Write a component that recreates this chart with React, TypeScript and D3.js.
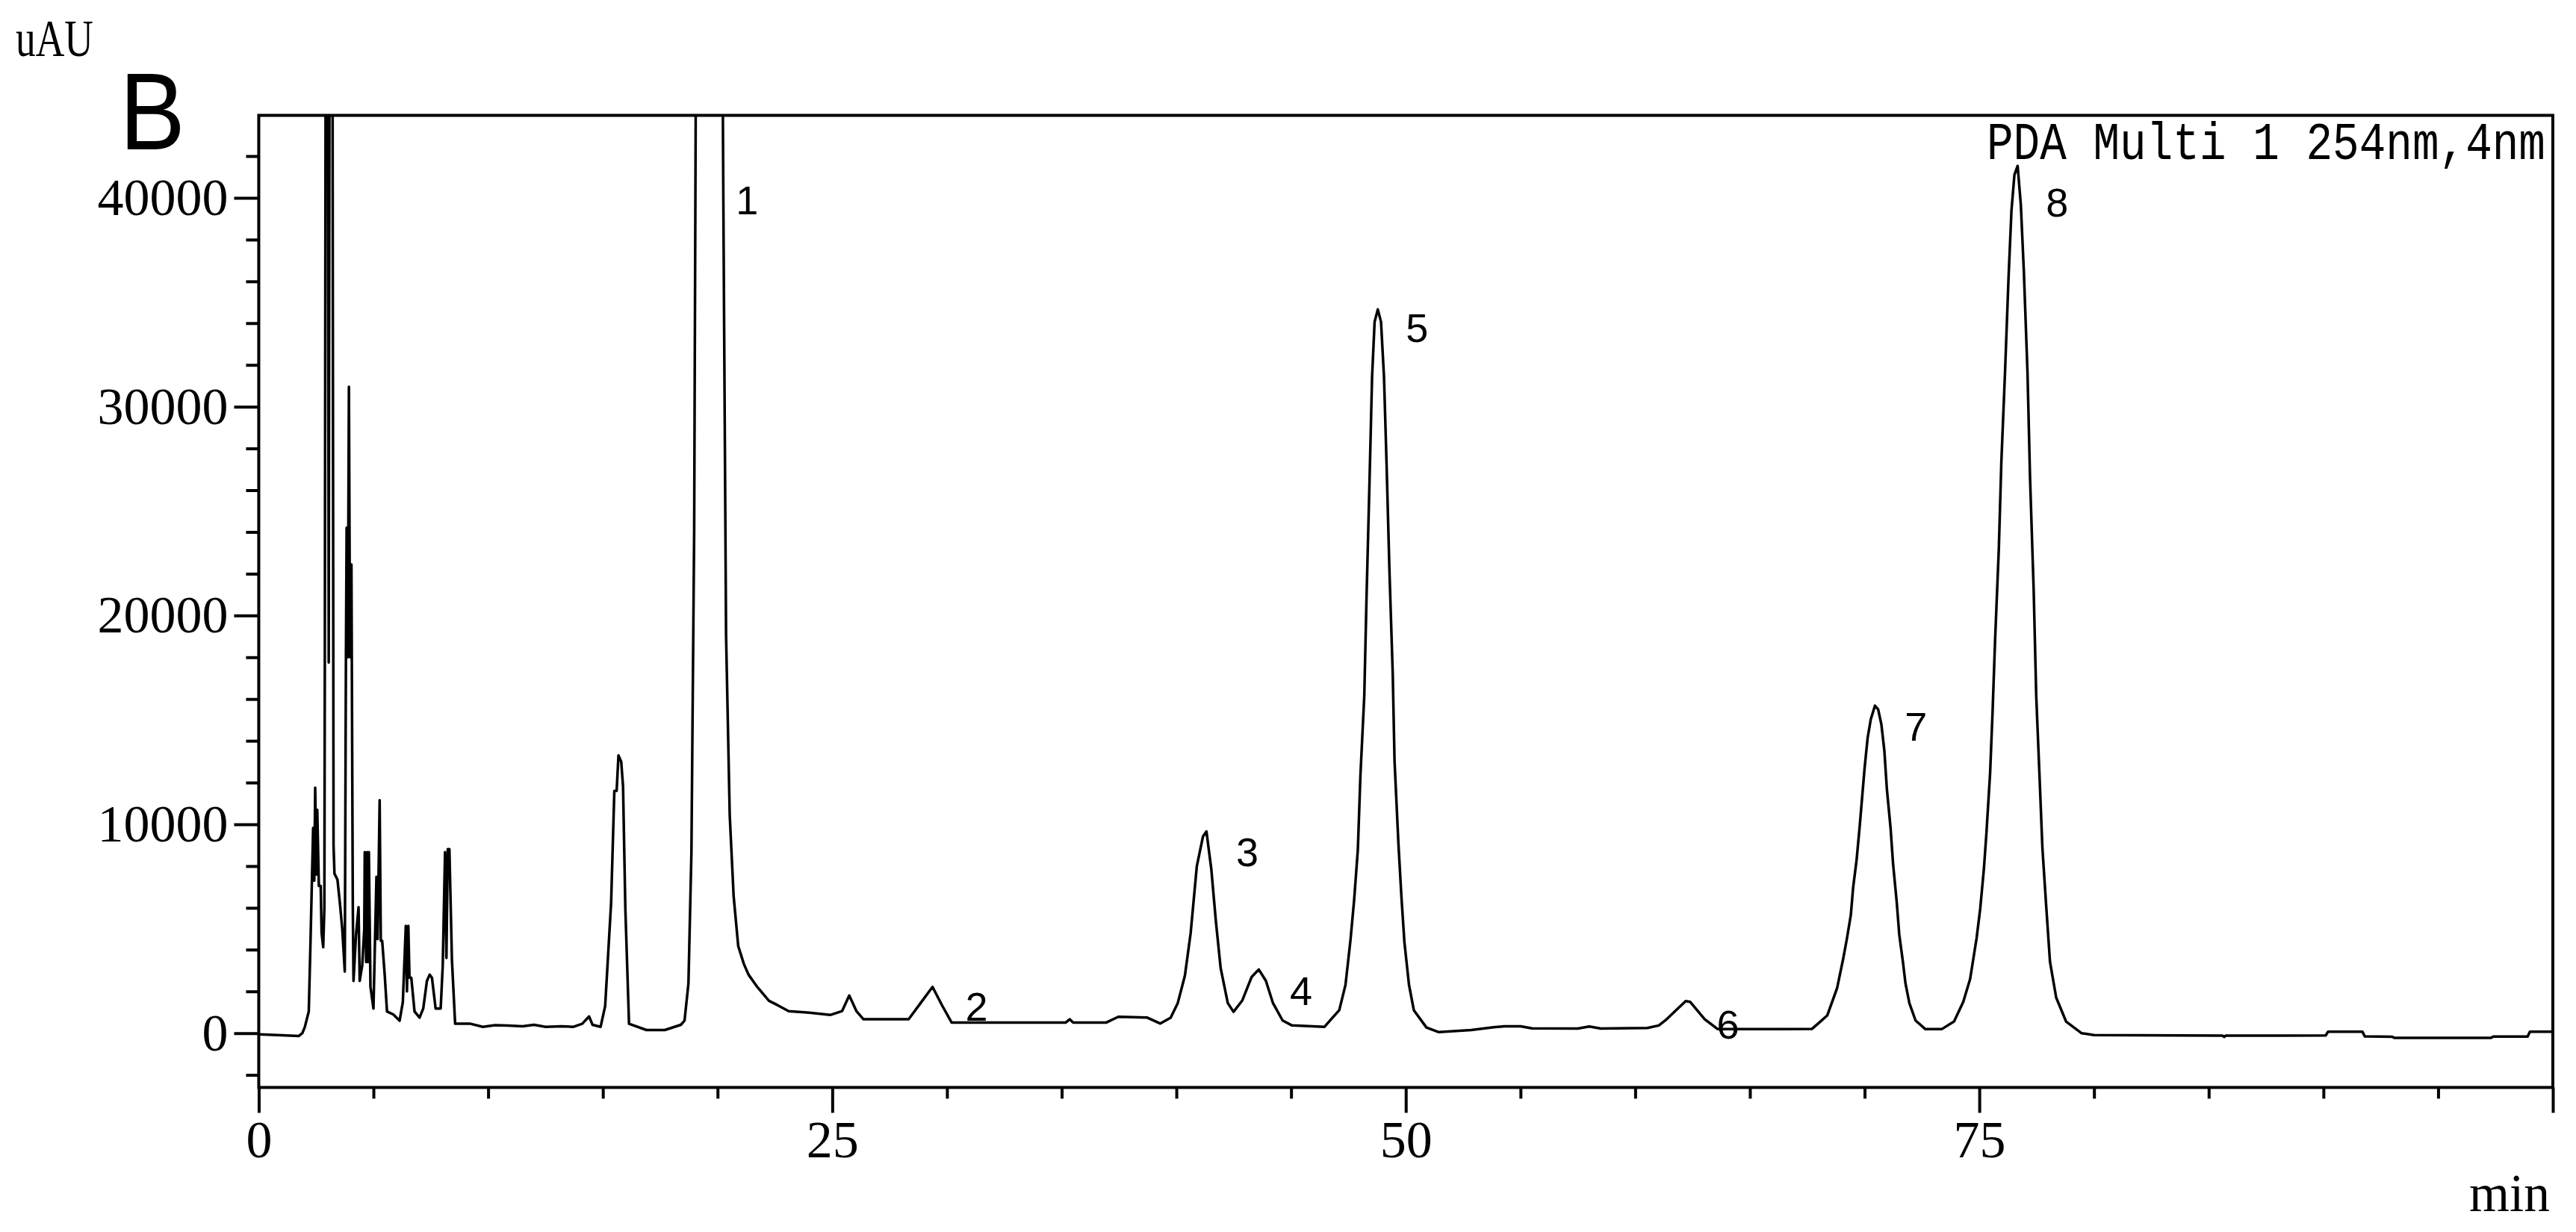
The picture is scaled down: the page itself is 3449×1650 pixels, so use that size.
import { useEffect, useRef } from 'react'
import * as d3 from 'd3'

const W = 3449
const H = 1650

// [retention time (min), signal (uAU)], peaks over the frame are clipped
const trace: [number, number][] = [
  [0, -60], [1.0, -100], [1.74, -140], [1.9, 0], [2.01, 300], [2.18, 1040], [2.26, 4560],
  [2.37, 9830], [2.42, 7300], [2.46, 11750], [2.52, 7600], [2.55, 10700], [2.62, 7050],
  [2.7, 7050], [2.74, 4800], [2.81, 4115], [2.86, 6000], [2.88, 17750], [2.93, 60000],
  [3.0, 60000], [3.05, 17750], [3.1, 60000], [3.2, 60000], [3.26, 9000], [3.3, 7640],
  [3.43, 7350], [3.53, 6310], [3.64, 4990], [3.75, 2950], [3.8, 18000], [3.83, 24200],
  [3.88, 18000], [3.93, 30950], [3.98, 18000], [4.04, 22440], [4.1, 6000], [4.13, 2500],
  [4.24, 4700], [4.35, 6030], [4.4, 2500], [4.51, 3240], [4.6, 5000], [4.62, 8670],
  [4.68, 3400], [4.72, 8670], [4.76, 3400], [4.8, 8670], [4.87, 2210], [5.0, 1180],
  [5.13, 7490], [5.18, 4500], [5.27, 11150], [5.32, 4420], [5.38, 4420], [5.49, 2800],
  [5.59, 1040], [5.87, 890], [6.14, 600], [6.28, 1480], [6.41, 5140], [6.46, 2000],
  [6.52, 5140], [6.57, 2650], [6.65, 2650], [6.79, 1040], [7.01, 745], [7.17, 1180],
  [7.33, 2500], [7.45, 2800], [7.55, 2650], [7.71, 1180], [7.93, 1180], [8.02, 3240],
  [8.12, 8670], [8.18, 3600], [8.24, 8810], [8.31, 8810], [8.42, 3525], [8.56, 450],
  [9.23, 450], [9.77, 300], [10.3, 380], [10.86, 360], [11.5, 330], [12.0, 400],
  [12.5, 300], [13.2, 330], [13.7, 300], [14.1, 450], [14.4, 800], [14.55, 400],
  [14.9, 300], [15.1, 1300], [15.36, 6260], [15.5, 11600], [15.6, 11600], [15.68, 13300],
  [15.8, 13000], [15.88, 11800], [15.98, 5960], [16.14, 450], [16.9, 150], [17.7, 150],
  [18.4, 400], [18.56, 600], [18.73, 2380], [18.86, 8640], [18.98, 24100], [19.1, 60000],
  [20.15, 60000], [20.25, 40200], [20.37, 19070], [20.53, 10430], [20.7, 6560],
  [20.9, 4170], [21.15, 3300], [21.35, 2800], [21.74, 2200], [22.24, 1550], [22.6, 1350],
  [23.1, 1050], [24.0, 980], [24.91, 870], [25.43, 1060], [25.74, 1800], [26.05, 1060],
  [26.36, 665], [28.33, 665], [28.85, 1440], [29.37, 2215], [29.79, 1320], [30.2, 510],
  [35.18, 510], [35.35, 665], [35.5, 510], [36.95, 510], [37.47, 785], [38.71, 750],
  [39.3, 460], [39.75, 740], [40.06, 1440], [40.37, 2750], [40.62, 4775], [40.89, 7990],
  [41.16, 9420], [41.31, 9660], [41.52, 7875], [41.72, 5370], [41.93, 3110], [42.24, 1440],
  [42.49, 1020], [42.87, 1560], [43.28, 2690], [43.59, 3050], [43.9, 2510], [44.21, 1440],
  [44.63, 605], [45.04, 370], [46.45, 300], [47.1, 1100], [47.37, 2310], [47.59, 4470],
  [47.75, 6400], [47.91, 8800], [48.02, 12290], [48.19, 16150], [48.29, 20950],
  [48.42, 26490], [48.53, 31420], [48.64, 34060], [48.78, 34660], [48.92, 34060],
  [49.05, 31420], [49.16, 27330], [49.29, 22040], [49.43, 17230], [49.51, 13010],
  [49.68, 9040], [49.81, 6520], [49.94, 4350], [50.14, 2310], [50.35, 1100], [50.9, 270],
  [51.44, 50], [52.85, 150], [53.83, 280], [54.3, 330], [55.0, 330], [55.5, 230],
  [57.5, 220], [58.0, 320], [58.5, 220], [60.53, 250], [61.03, 370], [61.37, 665],
  [62.2, 1535], [62.39, 1500], [63.03, 665], [63.6, 190], [66.2, 190], [67.7, 200],
  [68.0, 486], [68.37, 845], [68.8, 2155], [69.07, 3585], [69.23, 4537], [69.4, 5670],
  [69.5, 6980], [69.65, 8290], [69.78, 9840], [69.89, 11270], [70.0, 12700], [70.13, 14130],
  [70.27, 15030], [70.45, 15680], [70.59, 15500], [70.73, 14790], [70.86, 13530],
  [70.97, 11690], [71.13, 9840], [71.24, 8110], [71.4, 6270], [71.51, 4720], [71.67, 3410],
  [71.78, 2390], [71.95, 1440], [72.22, 605], [72.65, 190], [73.36, 190], [73.9, 560],
  [74.3, 1500], [74.6, 2600], [74.88, 4537], [75.04, 5970], [75.2, 7875], [75.31, 9585],
  [75.47, 12450], [75.58, 15455], [75.69, 18900], [75.85, 23190], [75.96, 27340],
  [76.12, 31640], [76.27, 36080], [76.4, 39375], [76.53, 41100], [76.67, 41530],
  [76.81, 39660], [76.94, 36510], [77.1, 31640], [77.21, 26630], [77.37, 21185],
  [77.48, 16170], [77.64, 11875], [77.75, 8865], [77.92, 6000], [78.08, 3425],
  [78.35, 1705], [78.78, 560], [79.45, 0], [80.0, -90], [85.6, -120], [85.67, -180],
  [85.75, -120], [90.1, -110], [90.2, 70], [91.7, 70], [91.8, -150], [93.0, -170],
  [93.1, -230], [97.3, -230], [97.4, -160], [98.9, -160], [99.0, 70], [100, 70],
]

const peakLabels = [
  { id: '1', t: 20.8, v: 39900 },
  { id: '2', t: 30.8, v: 1300 },
  { id: '3', t: 42.6, v: 8700 },
  { id: '4', t: 44.95, v: 2050 },
  { id: '5', t: 50.0, v: 33800 },
  { id: '6', t: 63.55, v: 450 },
  { id: '7', t: 71.75, v: 14700 },
  { id: '8', t: 77.9, v: 39800 },
]

const yMajor = [0, 10000, 20000, 30000, 40000]
const xMajor = [0, 25, 50, 75, 100]
const xLabelled = [0, 25, 50, 75]

export default function App() {
  const ref = useRef<SVGSVGElement | null>(null)

  useEffect(() => {
    const el = ref.current
    if (!el) return
    const svg = d3.select(el)
    svg.selectAll('*').remove()

    const m = { left: 346.45, top: 154.5, right: 3418, bottom: 1456.4 }
    const x = d3.scaleLinear().domain([0, 100]).range([m.left, m.right])
    const y = d3.scaleLinear().domain([-2600, 43950]).range([m.bottom, m.top])

    svg.append('rect').attr('width', W).attr('height', H).attr('fill', '#fff')

    svg.append('defs').append('clipPath').attr('id', 'plot-clip')
      .append('rect')
      .attr('x', m.left).attr('y', m.top)
      .attr('width', m.right - m.left).attr('height', m.bottom - m.top)

    const line = d3.line<[number, number]>().x(d => x(d[0])).y(d => y(d[1]))
    svg.append('path').datum(trace)
      .attr('d', line)
      .attr('fill', 'none')
      .attr('stroke', '#000')
      .attr('stroke-width', 3.5)
      .attr('stroke-linejoin', 'round')
      .attr('clip-path', 'url(#plot-clip)')

    svg.append('rect')
      .attr('x', m.left).attr('y', m.top)
      .attr('width', m.right - m.left).attr('height', m.bottom - m.top)
      .attr('fill', 'none').attr('stroke', '#000').attr('stroke-width', 4)

    const styleAxis = (g: d3.Selection<SVGGElement, unknown, null, undefined>) => {
      g.select('.domain').remove()
      g.selectAll('line').attr('stroke', '#000').attr('stroke-width', 4)
      g.attr('font-family', '"Liberation Serif", serif').attr('font-size', 70)
      g.selectAll('text').attr('fill', '#000')
    }

    // y axis: minor every 2000, labelled every 10000
    const yMinor = d3.range(-2000, 43000, 2000).filter(v => v % 10000 !== 0)
    svg.append('g').attr('transform', `translate(${m.left},0)`)
      .call(d3.axisLeft(y).tickValues(yMinor).tickSize(17).tickFormat(() => ''))
      .call(styleAxis)
    svg.append('g').attr('transform', `translate(${m.left},0)`)
      .call(d3.axisLeft(y).tickValues(yMajor).tickSize(33).tickPadding(8).tickFormat(d3.format('d')))
      .call(styleAxis)

    // x axis: minor every 5 min, major every 25
    const xMinor = d3.range(5, 100, 5).filter(v => v % 25 !== 0)
    svg.append('g').attr('transform', `translate(0,${m.bottom})`)
      .call(d3.axisBottom(x).tickValues(xMinor).tickSize(15).tickFormat(() => ''))
      .call(styleAxis)
    svg.append('g').attr('transform', `translate(0,${m.bottom})`)
      .call(d3.axisBottom(x).tickValues(xMajor).tickSize(34).tickPadding(10)
        .tickFormat(d => (xLabelled.includes(+d) ? String(d) : '')))
      .call(styleAxis)

    // peak numbers
    svg.append('g')
      .attr('font-family', '"Liberation Sans", sans-serif')
      .attr('font-size', 54)
      .selectAll('text').data(peakLabels).join('text')
      .attr('x', d => x(d.t))
      .attr('y', d => y(d.v))
      .attr('dy', '0.36em')
      .attr('fill', '#000')
      .text(d => d.id)

    svg.append('text')
      .attr('x', 3408).attr('y', 213)
      .attr('text-anchor', 'end')
      .attr('font-family', '"Liberation Mono", monospace')
      .attr('font-size', 70)
      .attr('textLength', 748).attr('lengthAdjust', 'spacingAndGlyphs')
      .text('PDA Multi 1 254nm,4nm')

    svg.append('text')
      .attr('x', 21).attr('y', 75)
      .attr('font-family', '"Liberation Serif", serif')
      .attr('font-size', 70)
      .attr('textLength', 104).attr('lengthAdjust', 'spacingAndGlyphs')
      .text('uAU')

    svg.append('text')
      .attr('x', 160).attr('y', 200)
      .attr('font-family', '"Liberation Sans", sans-serif')
      .attr('font-size', 146)
      .attr('textLength', 88).attr('lengthAdjust', 'spacingAndGlyphs')
      .text('B')

    svg.append('text')
      .attr('x', 3414).attr('y', 1622)
      .attr('text-anchor', 'end')
      .attr('font-family', '"Liberation Serif", serif')
      .attr('font-size', 72)
      .attr('textLength', 108).attr('lengthAdjust', 'spacingAndGlyphs')
      .text('min')
  }, [])

  return (
    <svg
      ref={ref}
      width={W}
      height={H}
      style={{ position: 'absolute', left: 0, top: 0, display: 'block' }}
    />
  )
}
